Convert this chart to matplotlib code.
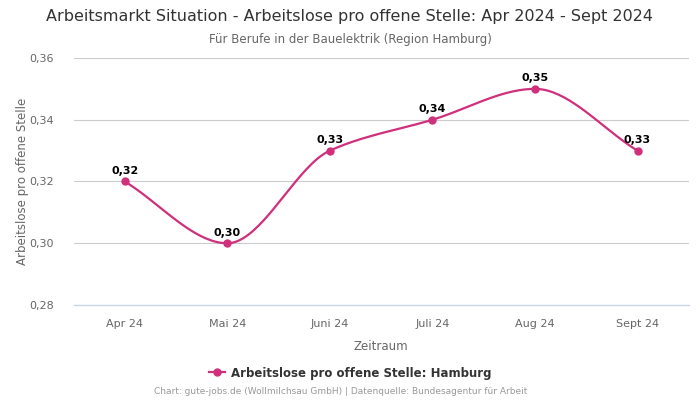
import numpy as np
import matplotlib
matplotlib.use('Agg')
import matplotlib.pyplot as plt

# Data
months = ['Apr 24', 'Mai 24', 'Juni 24', 'Juli 24', 'Aug 24', 'Sept 24']
values = [0.32, 0.30, 0.33, 0.34, 0.35, 0.33]
yticks = [0.28, 0.30, 0.32, 0.34, 0.36]

line_color = '#d02f7b'


def smooth_curve(y, n=40):
    # monotone cubic (Fritsch-Carlson) through the points, for drawing only
    y = np.asarray(y, dtype=float)
    x = np.arange(len(y), dtype=float)
    d = np.diff(y)
    m = np.zeros(len(y))
    m[0], m[-1] = d[0], d[-1]
    for i in range(1, len(y) - 1):
        if d[i - 1] * d[i] > 0:
            m[i] = 2.0 / (1.0 / d[i - 1] + 1.0 / d[i])
    xs, ys = [], []
    for i in range(len(y) - 1):
        t = np.linspace(0, 1, n)
        h00 = 2 * t**3 - 3 * t**2 + 1
        h10 = t**3 - 2 * t**2 + t
        h01 = -2 * t**3 + 3 * t**2
        h11 = t**3 - t**2
        xs.append(x[i] + t)
        ys.append(h00 * y[i] + h10 * m[i] + h01 * y[i + 1] + h11 * m[i + 1])
    return np.concatenate(xs), np.concatenate(ys)


fig = plt.figure(figsize=(7, 4), dpi=100)
ax = fig.add_axes([0.105, 0.2375, 0.879, 0.6175])

x = np.arange(len(months))
cx, cy = smooth_curve(values)
ax.plot(cx, cy, color=line_color, linewidth=1.6, zorder=3)
ax.plot(x, values, 'o', color=line_color, markersize=5, zorder=4)

for xi, v in zip(x, values):
    ax.annotate(('%.2f' % v).replace('.', ','), (xi, v), xytext=(0, 4),
                textcoords='offset points', ha='center', va='bottom',
                fontsize=8, fontweight='bold', color='black', zorder=5)

ax.set_xlim(-0.5, len(months) - 0.5)
ax.set_ylim(0.28, 0.36)
ax.set_yticks(yticks)
ax.set_yticklabels([('%.2f' % t).replace('.', ',') for t in yticks])
ax.set_xticks(x)
ax.set_xticklabels(months)

# Grid
ax.grid(True, axis='y', color='#cccccc', linewidth=0.8, zorder=0)
for s in ax.spines.values():
    s.set_visible(False)
ax.axhline(0.28, color='#ccd6eb', linewidth=1, zorder=1, clip_on=False)
ax.tick_params(axis='both', length=0, labelsize=8, labelcolor='#666666')
ax.tick_params(axis='x', pad=10)
ax.tick_params(axis='y', pad=14)

# Axis names
ax.set_xlabel('Zeitraum', fontsize=8.5, color='#666666', labelpad=8)
ax.set_ylabel('Arbeitslose pro offene Stelle', fontsize=8.5, color='#666666', labelpad=0)

# Titles
fig.text(0.5, 0.9575, 'Arbeitsmarkt Situation - Arbeitslose pro offene Stelle: Apr 2024 - Sept 2024',
         ha='center', va='center', fontsize=11.5, color='#333333')
fig.text(0.5, 0.9025, 'Für Berufe in der Bauelektrik (Region Hamburg)',
         ha='center', va='center', fontsize=8.5, color='#666666')

# Legend
leg = fig.legend(handles=[plt.Line2D([], [], color=line_color, marker='o', markersize=5, linewidth=1.6)],
                 labels=['Arbeitslose pro offene Stelle: Hamburg'],
                 loc='center', bbox_to_anchor=(0.5, 0.0675), frameon=False,
                 prop={'size': 8.5, 'weight': 'bold'}, handlelength=1.4, handletextpad=0.5)
for t in leg.get_texts():
    t.set_color('#333333')

fig.text(0.486, 0.02, 'Chart: gute-jobs.de (Wollmilchsau GmbH) | Datenquelle: Bundesagentur für Arbeit',
         ha='center', va='center', fontsize=6.5, color='#999999')

plt.savefig('out.png', dpi=100)
